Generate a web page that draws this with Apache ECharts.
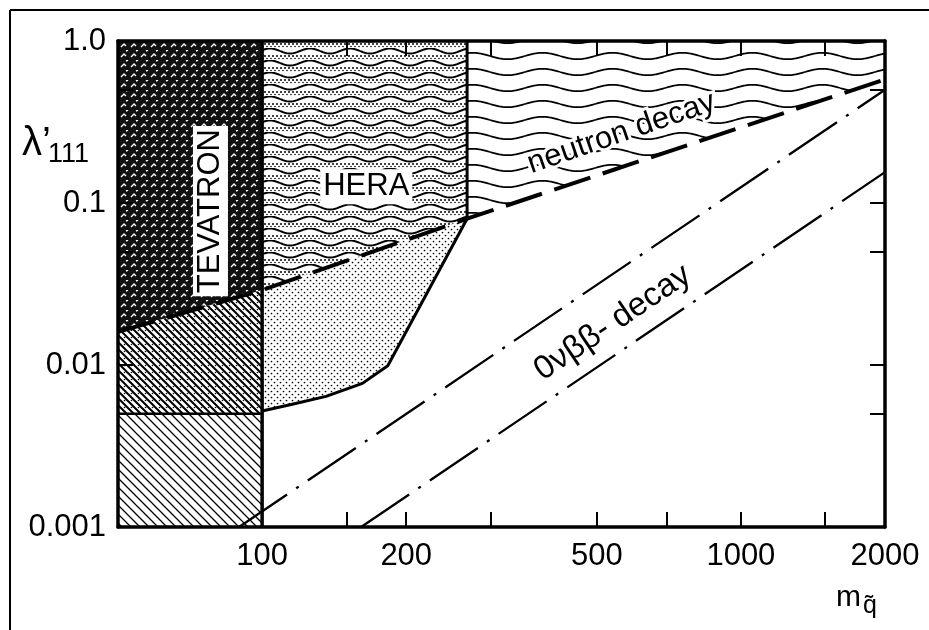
<!DOCTYPE html>
<html>
<head>
<meta charset="utf-8">
<title>lambda'111 limits</title>
<script src="https://cdn.jsdelivr.net/npm/echarts@6/dist/echarts.min.js"></script>
<style>
html, body { margin: 0; padding: 0; background: #fff; }
#main { width: 929px; height: 630px; }
</style>
</head>
<body>
<div id="main"></div>
<script>
// axis ranges and ticks
var mMin = 50, mMax = 2000;
var lamMin = 0.001, lamMax = 1;
var xTickValues = [150, 200, 300, 500, 700, 1000, 1500];
var xLabelValues = [100, 200, 500, 1000, 2000];
var yTickValues = [0.005, 0.01, 0.05, 0.1, 0.5];
var yLabelValues = [0.001, 0.01, 0.1, 1];

// limits
var tevatronEdge = 100;      // right edge of TEVATRON box
var tevatronLow = 0.005;     // top of the lower TEVATRON box
var neutronM   = [50, 100, 268, 2000];
var neutronLam = [0.016, 0.029, 0.08, 0.58];
var heraM   = [100, 115, 136, 162, 183, 268];
var heraLam = [0.0052, 0.0057, 0.0064, 0.0077, 0.0099, 0.08];
var dbdUpperM = [89.5, 2000], dbdUpperLam = [0.001, 0.5];
var dbdLowerM = [161, 2000],  dbdLowerLam = [0.001, 0.155];

// text inside the plot (anchor in data coords)
var labelTexts = ['TEVATRON', 'HERA', 'neutron decay', '0νββ- decay'];
var labelM     = [78, 165, 563, 540];
var labelLam   = [0.089, 0.126, 0.27, 0.0182];

var FONT = "'Liberation Sans', Arial, sans-serif";
var labelRot = [90, 0, 19, 34];
var labelSize = [31, 31, 31, 33];

function pairs(ms, ls) {
    return ms.map(function (m, i) { return [m, ls[i]]; });
}

/* small canvas tiles for the shading patterns */
function tile(w, h, draw) {
    var c = document.createElement('canvas');
    c.width = w; c.height = h;
    var g = c.getContext('2d');
    g.fillStyle = '#fff';
    g.fillRect(0, 0, w, h);
    g.strokeStyle = '#000';
    g.fillStyle = '#000';
    draw(g, w, h);
    return { image: c, repeat: 'repeat' };
}
function diag(g, s, lw) {   // "\" hatching
    g.lineWidth = lw;
    g.beginPath();
    for (var k = -s; k <= s; k += s) {
        g.moveTo(k - 1, -1);
        g.lineTo(k + s + 1, s + 1);
    }
    g.stroke();
}
function wave(g, w, y0, amp, lw) {
    g.lineWidth = lw;
    g.beginPath();
    for (var x = 0; x <= w; x++) {
        var y = y0 + amp * Math.sin(2 * Math.PI * x / w);
        if (x === 0) g.moveTo(x, y); else g.lineTo(x, y);
    }
    g.stroke();
}
function dot(g, x, y, r) {
    g.beginPath(); g.arc(x, y, r, 0, Math.PI * 2); g.fill();
}

var hatchFill = tile(9, 9, function (g) { diag(g, 9, 1.3); });
var hatchDotFill = tile(7, 7, function (g) { diag(g, 7, 2); dot(g, 5.5, 1.5, 0.8); });
var denseFill = tile(10, 10, function (g) {
    g.fillStyle = '#111'; g.fillRect(0, 0, 10, 10);
    g.strokeStyle = '#fff'; g.lineWidth = 1.4;
    g.beginPath();
    g.moveTo(1, 7); g.lineTo(4, 4); g.lineTo(6, 6);
    g.moveTo(6, 1); g.lineTo(8, 0);
    g.stroke();
});
var dotFill = tile(6, 6, function (g) { dot(g, 1.5, 1.5, 0.85); dot(g, 4.5, 4.5, 0.85); });
var waveDotFill = tile(40, 12, function (g) {
    wave(g, 40, 3, 2.5, 2);
    for (var x = 1; x < 40; x += 4) { dot(g, x, 8, 1.0); dot(g, x + 2, 10.5, 0.8); }
});
var waveFill = tile(70, 16, function (g) { wave(g, 70, 8, 3.2, 1.7); });

var nPts = pairs(neutronM, neutronLam);
var heraPts = pairs(heraM, heraLam);
var heraTop = heraM[heraM.length - 1];

var regions = [
    { poly: [[mMin, lamMin], [tevatronEdge, lamMin], [tevatronEdge, tevatronLow], [mMin, tevatronLow]], fill: hatchFill },
    { poly: [[mMin, tevatronLow], [tevatronEdge, tevatronLow], nPts[1], nPts[0]], fill: hatchDotFill },
    { poly: [nPts[0], nPts[1], [tevatronEdge, lamMax], [mMin, lamMax]], fill: denseFill },
    { poly: heraPts.concat([nPts[1]]), fill: dotFill },
    { poly: [nPts[1], nPts[2], [heraTop, lamMax], [tevatronEdge, lamMax]], fill: waveDotFill },
    { poly: [nPts[2], nPts[3], [mMax, lamMax], [heraTop, lamMax]], fill: waveFill }
];

function regionSeries(r) {
    return {
        type: 'custom', coordinateSystem: 'cartesian2d', clip: true, silent: true, z: 1,
        data: [r.poly[0]],
        renderItem: function (params, api) {
            return {
                type: 'polygon',
                shape: { points: r.poly.map(function (p) { return api.coord(p); }) },
                style: { fill: r.fill, stroke: null }
            };
        }
    };
}
function lineSeries(data, width, type) {
    return {
        type: 'line', data: data, showSymbol: false, silent: true, z: 5, clip: true,
        lineStyle: { color: '#000', width: width, type: type || 'solid', cap: 'butt' }
    };
}

var series = regions.map(regionSeries);
series.push(lineSeries([[tevatronEdge, lamMin], [tevatronEdge, lamMax]], 3.5));
series.push(lineSeries([[mMin, tevatronLow], [tevatronEdge, tevatronLow]], 2.5));
series.push(lineSeries(heraPts, 3));
series.push(lineSeries([[heraTop, heraLam[heraLam.length - 1]], [heraTop, lamMax]], 3));
series.push(lineSeries(nPts, 4, [38, 13]));
series.push(lineSeries(pairs(dbdUpperM, dbdUpperLam), 2.3, [58, 11, 3, 11]));
series.push(lineSeries(pairs(dbdLowerM, dbdLowerLam), 2.3, [58, 11, 3, 11]));
series.push({
    type: 'custom', coordinateSystem: 'cartesian2d', z: 8, silent: true, clip: false,
    data: pairs(labelM, labelLam),
    renderItem: function (params, api) {
        var i = params.dataIndex;
        var p = api.coord([api.value(0), api.value(1)]);
        var boxed = i < 2;
        return {
            type: 'text', x: p[0], y: p[1], rotation: labelRot[i] * Math.PI / 180,
            style: {
                text: labelTexts[i], fontSize: labelSize[i], fontFamily: FONT, fill: '#000',
                align: 'center', verticalAlign: 'middle',
                backgroundColor: boxed ? '#fff' : null,
                padding: boxed ? [3, 3, 1, 3] : 0,
                stroke: i === 2 ? '#fff' : null, lineWidth: i === 2 ? 6 : 0,
                strokeFirst: true
            }
        };
    }
});

var axisLine = { show: true, onZero: false, lineStyle: { color: '#000', width: 3.5 } };
function tickStyle(vals) {
    return { show: true, inside: true, length: 15, customValues: vals, lineStyle: { color: '#000', width: 2 } };
}

var myChart = echarts.init(document.getElementById('main'), null, { renderer: 'canvas' });
var option = {
    animation: false,
    backgroundColor: '#fff',
    textStyle: { fontFamily: FONT },
    grid: { left: 118, right: 44, top: 41, bottom: 103, containLabel: false },
    xAxis: [{
        type: 'log', logBase: 10, min: mMin, max: mMax, position: 'bottom', z: 10,
        axisLine: axisLine, axisTick: tickStyle(xTickValues), splitLine: { show: false },
        axisLabel: {
            customValues: xLabelValues, color: '#000', fontSize: 31, fontFamily: FONT, margin: 14,
            formatter: function (v) { return String(Math.round(v)); }
        }
    }, {
        type: 'log', logBase: 10, min: mMin, max: mMax, position: 'top', z: 10,
        axisLine: axisLine, axisTick: tickStyle(xTickValues), splitLine: { show: false },
        axisLabel: { show: false }
    }],
    yAxis: [{
        type: 'log', logBase: 10, min: lamMin, max: lamMax, position: 'left', z: 10,
        axisLine: axisLine, axisTick: tickStyle(yTickValues), splitLine: { show: false },
        axisLabel: {
            customValues: yLabelValues, color: '#000', fontSize: 31, fontFamily: FONT, margin: 12,
            formatter: function (v) { return Math.abs(v - 1) < 1e-9 ? '1.0' : String(+v.toPrecision(3)); }
        }
    }, {
        type: 'log', logBase: 10, min: lamMin, max: lamMax, position: 'right', z: 10,
        axisLine: axisLine, axisTick: tickStyle(yTickValues), splitLine: { show: false },
        axisLabel: { show: false }
    }],
    graphic: [
        { type: 'line', shape: { x1: 10, y1: 10, x2: 929, y2: 10 }, style: { stroke: '#000', lineWidth: 2 } },
        { type: 'line', shape: { x1: 10, y1: 10, x2: 10, y2: 630 }, style: { stroke: '#000', lineWidth: 2 } },
        { type: 'text', x: 22, y: 144, style: { text: 'λ\u2019', fontSize: 40, fontFamily: FONT, fill: '#000', verticalAlign: 'middle' } },
        { type: 'text', x: 48, y: 155, style: { text: '111', fontSize: 27, fontFamily: FONT, fill: '#000', verticalAlign: 'middle' } },
        { type: 'text', x: 836, y: 598, style: { text: 'm', fontSize: 30, fontFamily: FONT, fill: '#000', verticalAlign: 'middle' } },
        { type: 'text', x: 863, y: 606, style: { text: 'q\u0303', fontSize: 25, fontFamily: FONT, fill: '#000', verticalAlign: 'middle' } }
    ],
    series: series
};
myChart.setOption(option);
window.addEventListener('resize', function () { myChart.resize(); });
</script>
</body>
</html>
